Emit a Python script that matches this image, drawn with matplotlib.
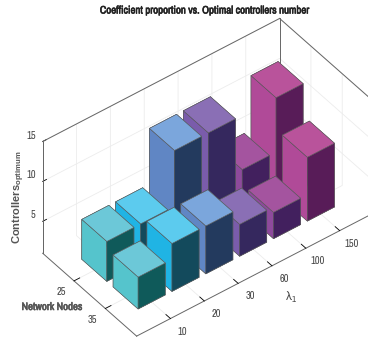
import numpy as np
import matplotlib
matplotlib.use("Agg")
import matplotlib.pyplot as plt
import matplotlib.patheffects as pe
from mpl_toolkits.mplot3d import proj3d

plt.rcParams["font.family"] = ["Archivo Narrow", "Liberation Sans", "DejaVu Sans"]
plt.rcParams["mathtext.default"] = "regular"

lambda_labels = ["10", "20", "30", "60", "100", "150"]
node_labels = ["35", "25"]
z_labels = [5, 10, 15]
z_front = [5, 7, 7, 5, 4.3, 9]    # 35 nodes
z_back = [6, 6, 13, 13, 6.2, 13]  # 25 nodes

top_colors = ["#6cc8d8", "#5ccbee", "#7ba6dc", "#8a6fb5", "#a4549f", "#b9539b"]
left_colors = ["#55c4cc", "#20b4e4", "#6086c4", "#7a5cab", "#8e4a9c", "#b04a98"]
right_colors = ["#0f5a5a", "#134a5c", "#233a5e", "#35285e", "#42205e", "#581c58"]

BAR_W = 0.8
Z_MIN = 1
Z_MAX = 15
X_MAX = 7
Y_MAX = 3
TICK_COLOR = "#444444"
TICK_SIZE = 7.5

fig = plt.figure(figsize=(3.68, 3.41), dpi=100)
ax = fig.add_axes([19.5 / 368, -11.4 / 341, 1, 1], projection="3d", proj_type="ortho", computed_zorder=False)
ax.view_init(elev=42.6, azim=-127.5)
ax.set_box_aspect((299, 154.5, 152), zoom=1.05)

ax.set_xlim(0, X_MAX)
ax.set_ylim(0, Y_MAX)
ax.set_zlim(Z_MIN, Z_MAX)
ax.set_xticks(range(1, 7), [""] * 6)
ax.set_yticks([1, 2], ["", ""])
ax.set_zticks(z_labels, [""] * 3)

order = 0
for j, heights in [(2, z_back), (1, z_front)]:
    for i in range(5, -1, -1):
        faces = [top_colors[i], top_colors[i], right_colors[i], right_colors[i],
                 left_colors[i], left_colors[i]]
        ax.bar3d(i + 1 - BAR_W / 2, j - BAR_W / 2, Z_MIN, BAR_W, BAR_W, heights[i] - Z_MIN,
                 color=faces, shade=False, edgecolor="#5a5a5a", linewidth=0.4, zorder=10 + order)
        order += 1

for axis, out in [(ax.xaxis, 0.6), (ax.yaxis, 0.3), (ax.zaxis, 0.2)]:
    axis.set_pane_color((1, 1, 1, 1))
    axis.pane.set_edgecolor("white")
    axis._axinfo["grid"].update(color="#ececec", linewidth=0.6)
    axis._axinfo["tick"].update(inward_factor=0, outward_factor=out, linewidth={True: 0.6, False: 0.6})
    axis.line.set_color("#666666")
    axis.line.set_linewidth(0.7)

# rest of the box outline
box = dict(color="#666666", linewidth=0.7, zorder=1)
ax.plot([0, 0], [Y_MAX, Y_MAX], [Z_MIN, Z_MAX], **box)
ax.plot([X_MAX, X_MAX], [Y_MAX, Y_MAX], [Z_MIN, Z_MAX], **box)
ax.plot([0, X_MAX], [Y_MAX, Y_MAX], [Z_MAX, Z_MAX], **box)
ax.plot([X_MAX, X_MAX], [0, Y_MAX], [Z_MAX, Z_MAX], **box)


def tick_text(x, y, z, s, dx, dy, ha="center"):
    # tick label at a pixel offset from its 3d tick position
    px, py, _ = proj3d.proj_transform(x, y, z, ax.get_proj())
    ax.annotate(s, (px, py), xytext=(dx, dy), textcoords="offset pixels", ha=ha, va="center",
                fontsize=TICK_SIZE, color=TICK_COLOR, annotation_clip=False)


for i, s in enumerate(lambda_labels):
    tick_text(i + 1, 0, Z_MIN, s, 12, -13)
for j, s in enumerate(node_labels):
    tick_text(0, j + 1, Z_MIN, s, -13, -11)
for v in z_labels:
    tick_text(0, Y_MAX, v, str(v), -7, 6, ha="right")

# the narrow family has no bold face here, a thin stroke stands in for it
fig.text(205 / 368, 1 - 10.5 / 341, "Coefficient proportion vs. Optimal controllers number",
         ha="center", va="center", fontsize=7.8, color="#222222",
         path_effects=[pe.withStroke(linewidth=0.45, foreground="#222222")])
fig.text(52 / 368, 1 - 307 / 341, "Network Nodes", ha="center", va="center",
         fontsize=7.8, color="#555555",
         path_effects=[pe.withStroke(linewidth=0.45, foreground="#555555")])
fig.text(291 / 368, 1 - 297 / 341, r"$\lambda_1$", ha="center", va="center", fontsize=9, color="#444444")
fig.text(19 / 368, 1 - 197 / 341, r"Controllers$_{optimum}$", ha="center", va="center", rotation=90,
         fontsize=8, fontweight="bold", color="#555555",
         family=["Liberation Sans", "DejaVu Sans"])

fig.savefig("out.png", dpi=100)
